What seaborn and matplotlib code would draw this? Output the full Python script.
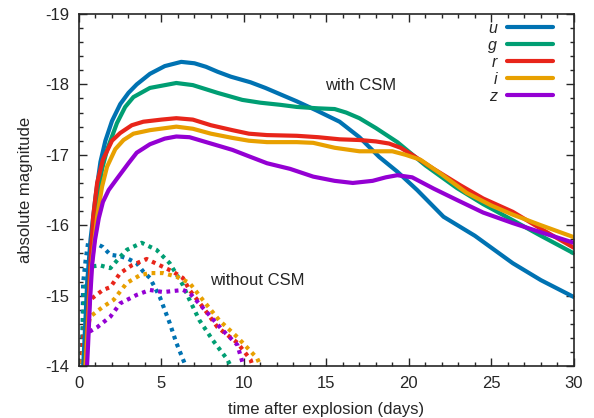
import matplotlib
matplotlib.use("Agg")
import matplotlib.pyplot as plt
import seaborn as sb
import numpy as np
from matplotlib.ticker import MultipleLocator

# light curves with CSM (solid)
u_x = [0.15, 0.3, 0.5, 0.7, 1.0, 1.3, 1.6, 2.0, 2.5, 3.0, 3.5, 4.3, 5.2, 6.2, 7.0, 7.7, 8.4, 9.2, 10.4, 11.3, 12.2, 13.2, 14.4, 15.8, 17.0, 18.2, 19.3, 20.5, 22.1, 24.0, 26.3, 28.0, 30.0]
u_y = [-13.5, -14.2, -15.2, -15.8, -16.4, -16.9, -17.2, -17.48, -17.72, -17.88, -18.0, -18.15, -18.26, -18.32, -18.3, -18.25, -18.18, -18.11, -18.03, -17.95, -17.86, -17.76, -17.63, -17.47, -17.25, -16.97, -16.76, -16.5, -16.12, -15.85, -15.46, -15.22, -14.98]

g_x = [0.25, 0.4, 0.6, 0.8, 1.1, 1.4, 1.7, 2.3, 2.8, 3.3, 4.3, 5.9, 6.9, 8.4, 9.9, 11.0, 12.2, 13.2, 14.5, 15.5, 16.2, 17.0, 18.0, 19.3, 21.0, 22.9, 24.5, 26.3, 28.0, 30.0]
g_y = [-13.6, -14.2, -15.0, -15.7, -16.36, -16.8, -17.07, -17.45, -17.68, -17.82, -17.95, -18.02, -17.99, -17.88, -17.78, -17.74, -17.71, -17.68, -17.66, -17.65, -17.6, -17.52, -17.38, -17.18, -16.85, -16.53, -16.3, -16.07, -15.85, -15.6]

r_x = [0.3, 0.5, 0.7, 0.86, 1.1, 1.45, 2.0, 2.5, 3.2, 3.9, 5.0, 5.9, 6.9, 8.0, 9.3, 10.3, 11.4, 13.2, 14.5, 15.8, 17.0, 18.0, 18.8, 19.5, 20.2, 21.5, 23.1, 24.5, 26.3, 28.0, 30.0]
r_y = [-13.6, -14.5, -15.5, -16.12, -16.6, -16.93, -17.2, -17.31, -17.42, -17.47, -17.5, -17.52, -17.5, -17.42, -17.35, -17.3, -17.28, -17.27, -17.25, -17.22, -17.21, -17.19, -17.16, -17.1, -17.0, -16.8, -16.57, -16.38, -16.19, -15.95, -15.68]

i_x = [0.3, 0.5, 0.75, 1.1, 1.4, 1.7, 2.2, 2.7, 3.3, 4.3, 5.9, 6.9, 8.0, 9.3, 10.3, 11.4, 13.2, 14.2, 15.5, 17.0, 18.0, 19.0, 19.8, 20.7, 22.0, 23.5, 25.0, 26.3, 28.0, 30.0]
i_y = [-13.6, -14.4, -15.4, -16.12, -16.55, -16.83, -17.08, -17.21, -17.3, -17.35, -17.4, -17.37, -17.3, -17.24, -17.2, -17.18, -17.18, -17.17, -17.1, -17.05, -17.05, -17.05, -17.0, -16.93, -16.72, -16.46, -16.28, -16.15, -16.0, -15.83]

z_x = [0.4, 0.55, 0.67, 0.8, 0.97, 1.2, 1.45, 1.8, 2.3, 3.0, 3.5, 4.3, 5.2, 5.9, 6.7, 8.0, 9.3, 10.4, 11.4, 12.8, 14.2, 15.5, 16.6, 17.8, 18.6, 19.3, 20.2, 21.5, 22.9, 24.5, 26.3, 28.0, 30.0]
z_y = [-13.6, -14.3, -14.94, -15.45, -15.79, -16.1, -16.33, -16.5, -16.66, -16.88, -17.03, -17.15, -17.23, -17.26, -17.25, -17.16, -17.07, -16.97, -16.88, -16.8, -16.69, -16.63, -16.6, -16.63, -16.68, -16.71, -16.68, -16.52, -16.36, -16.18, -16.03, -15.9, -15.75]

# light curves without CSM (dotted)
u0_x = [0.1, 0.2, 0.25, 0.4, 0.55, 0.85, 1.45, 1.9, 2.5, 3.0, 3.5, 3.9, 4.3, 4.9, 5.5, 5.9, 6.4, 6.6]
u0_y = [-13.8, -14.2, -15.18, -15.5, -15.75, -15.76, -15.69, -15.58, -15.56, -15.52, -15.46, -15.34, -15.25, -14.98, -14.61, -14.33, -14.04, -13.9]

g0_x = [0.1, 0.2, 0.36, 0.67, 1.27, 1.9, 2.5, 2.9, 3.8, 4.7, 5.5, 6.3, 6.7, 7.3, 8.1, 9.0, 9.3]
g0_y = [-13.8, -14.4, -15.08, -15.41, -15.43, -15.39, -15.55, -15.65, -15.75, -15.65, -15.46, -15.15, -14.94, -14.65, -14.37, -14.09, -13.95]

r0_x = [0.1, 0.25, 0.67, 1.45, 1.9, 2.5, 3.2, 4.1, 4.9, 5.7, 6.3, 6.7, 7.5, 8.4, 9.6, 10.4, 10.6]
r0_y = [-13.8, -14.41, -14.94, -15.08, -15.12, -15.32, -15.43, -15.52, -15.43, -15.34, -15.25, -15.08, -14.84, -14.55, -14.33, -14.09, -13.95]

i0_x = [0.1, 0.25, 0.67, 1.45, 2.1, 2.9, 3.7, 4.3, 5.1, 5.9, 6.7, 7.5, 8.5, 9.6, 10.8, 11.1]
i0_y = [-13.8, -14.18, -14.7, -14.84, -14.94, -15.18, -15.29, -15.32, -15.32, -15.27, -15.18, -14.94, -14.65, -14.41, -14.11, -13.95]

z0_x = [0.2, 0.5, 1.1, 1.9, 2.5, 3.5, 4.3, 5.1, 6.3, 6.7, 7.8, 8.7, 9.6, 9.9, 10.1]
z0_y = [-13.8, -14.47, -14.55, -14.7, -14.89, -15.01, -15.08, -15.05, -15.08, -15.04, -14.75, -14.51, -14.3, -14.06, -13.95]

bands = ["u", "g", "r", "i", "z"]
colors = ["#0072B2", "#009E73", "#E8251A", "#E8A000", "#9400D3"]

with_csm = [(u_x, u_y), (g_x, g_y), (r_x, r_y), (i_x, i_y), (z_x, z_y)]
without_csm = [(u0_x, u0_y), (g0_x, g0_y), (r0_x, r0_y), (i0_x, i0_y), (z0_x, z0_y)]

sb.set_style("ticks")
plt.rcParams["font.family"] = ["Liberation Sans", "DejaVu Sans"]
plt.rcParams["axes.unicode_minus"] = False

fig = plt.figure(figsize=(5.94, 4.18), dpi=100)
ax = fig.add_axes([0.133, 0.1244, 0.833, 0.8421])

for (x, y), c in zip(without_csm, colors):
	sb.lineplot(x=x, y=y, color=c, lw=3, ls=(0, (0.9, 1.1)), sort=False,
		estimator=None, ax=ax, legend=False)

for (x, y), c, b in zip(with_csm, colors, bands):
	sb.lineplot(x=x, y=y, color=c, lw=3, sort=False, estimator=None,
		ax=ax, label=b, solid_joinstyle="round", solid_capstyle="round")

ax.set_xlim(0, 30)
ax.set_ylim(-14, -19)
ax.xaxis.set_major_locator(MultipleLocator(5))
ax.xaxis.set_minor_locator(MultipleLocator(1))
ax.yaxis.set_major_locator(MultipleLocator(1))
ax.yaxis.set_minor_locator(MultipleLocator(0.2))
ax.tick_params(which="both", direction="in", top=True, right=True, labelsize=12, width=1, pad=7)
ax.tick_params(which="major", length=6)
ax.tick_params(which="minor", length=3)
for s in ax.spines.values():
	s.set_linewidth(1.2)

ax.set_xlabel("time after explosion (days)", fontsize=12, labelpad=8)
ax.set_ylabel("absolute magnitude", fontsize=12, labelpad=9)

ax.text(17.1, -17.99, "with CSM", fontsize=12, ha="center", va="center")
ax.text(10.8, -15.21, "without CSM", fontsize=12, ha="center", va="center")

leg = ax.legend(loc="upper right", bbox_to_anchor=(0.9576, 0.98), frameon=False,
	markerfirst=False, handlelength=2.9, labelspacing=0.12, fontsize=11.5,
	borderaxespad=0, borderpad=0, handletextpad=0.6)
for t in leg.get_texts():
	t.set_fontstyle("italic")

plt.savefig("out.png", dpi=100)
